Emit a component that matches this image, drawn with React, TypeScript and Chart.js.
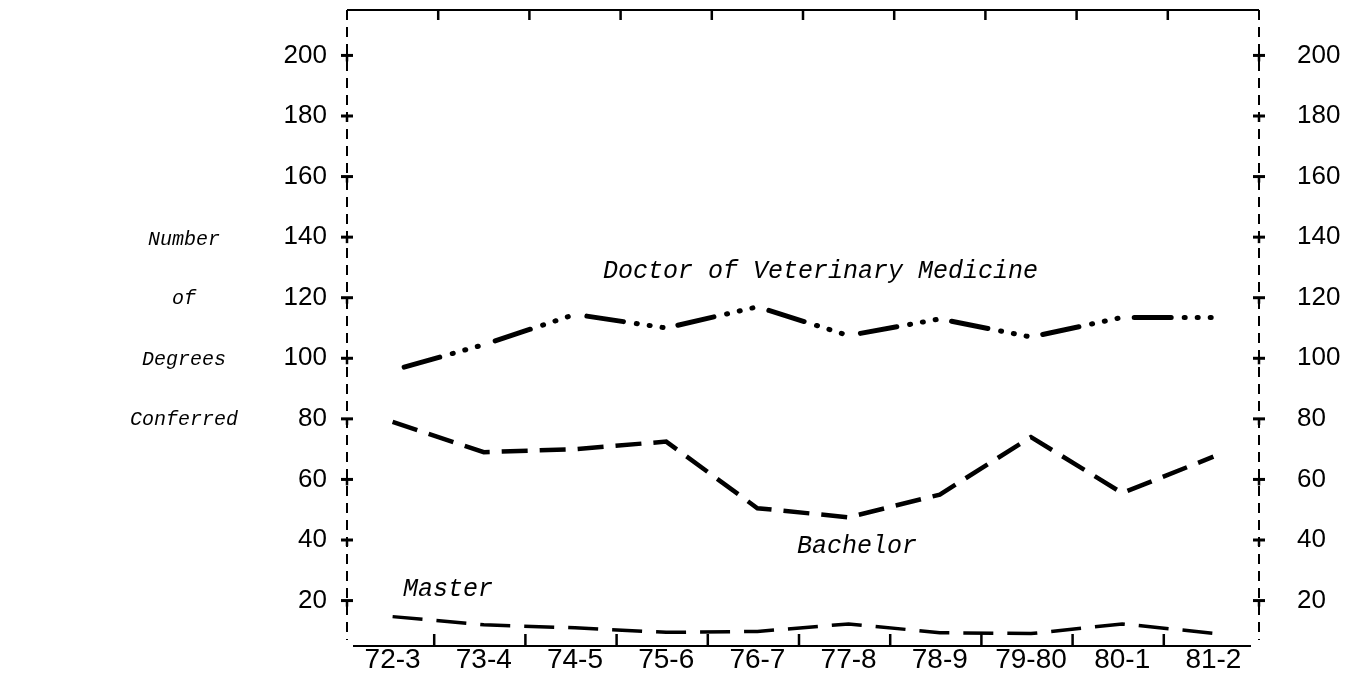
import React, { useEffect, useRef } from "react";
import { Chart, registerables } from "chart.js";

Chart.register(...registerables);

// ---- data ----
const categories = ["72-3", "73-4", "74-5", "75-6", "76-7", "77-8", "78-9", "79-80", "80-1", "81-2"];
const dvmValues = [96, 104.5, 114.5, 110, 117, 107.5, 113, 107, 113.5, 113.5];
const bachelorValues = [79, 69, 70, 72.5, 50.5, 47.5, 55, 74, 55.5, 67.5];
const masterValues = [14.7, 12, 11, 9.5, 9.8, 12.3, 9.4, 9.1, 12.3, 9.2];
const yTickValues = [20, 40, 60, 80, 100, 120, 140, 160, 180, 200];
const yAxisTitleLines = ["Number", "of", "Degrees", "Conferred"];
const seriesLabels = ["Doctor of Veterinary Medicine", "Bachelor", "Master"];

const TICK_FONT = "'Liberation Sans', Arial, sans-serif";
const TYPE_FONT = "'Liberation Mono', 'Courier New', monospace";

const framePlugin = {
  id: "typedFrame",
  afterDraw(chart: any) {
    const { ctx, chartArea, scales } = chart;
    const { left, right, top, bottom } = chartArea;
    const x = scales.x;
    const y = scales.y;
    ctx.save();
    ctx.strokeStyle = "#000";
    ctx.fillStyle = "#000";

    // top border (solid)
    ctx.lineWidth = 2;
    ctx.beginPath();
    ctx.moveTo(left, top);
    ctx.lineTo(right, top);
    ctx.stroke();
    // bottom axis (solid)
    ctx.beginPath();
    ctx.moveTo(left + 6, bottom);
    ctx.lineTo(right - 8, bottom);
    ctx.stroke();

    // dashed side axes
    ctx.setLineDash([10, 7]);
    ctx.beginPath();
    ctx.moveTo(left, top);
    ctx.lineTo(left, bottom - 6);
    ctx.moveTo(right, top);
    ctx.lineTo(right, bottom - 6);
    ctx.stroke();
    ctx.setLineDash([]);

    // category boundary ticks (top pointing down, bottom pointing up)
    ctx.lineWidth = 2.5;
    for (let i = 0; i < categories.length - 1; i++) {
      const bx = (x.getPixelForValue(i) + x.getPixelForValue(i + 1)) / 2;
      ctx.beginPath();
      ctx.moveTo(bx, top);
      ctx.lineTo(bx, top + 10);
      ctx.moveTo(bx - 4, bottom);
      ctx.lineTo(bx - 4, bottom - 12);
      ctx.stroke();
    }

    // T-shaped value ticks on both side axes
    for (const v of yTickValues) {
      const py = y.getPixelForValue(v);
      for (const ax of [left, right]) {
        ctx.lineWidth = 3;
        ctx.beginPath();
        ctx.moveTo(ax - 6, py);
        ctx.lineTo(ax + 6, py);
        ctx.stroke();
        ctx.lineWidth = 2.5;
        ctx.beginPath();
        ctx.moveTo(ax, py);
        ctx.lineTo(ax, py + 6);
        ctx.stroke();
      }
    }

    // axis title (horizontal, stacked)
    ctx.font = `italic 20px ${TYPE_FONT}`;
    ctx.textAlign = "center";
    ctx.textBaseline = "middle";
    const titleY = [240, 299, 360, 420];
    yAxisTitleLines.forEach((t, i) => ctx.fillText(t, 184, titleY[i]));

    // series annotations
    ctx.font = `italic 25px ${TYPE_FONT}`;
    ctx.textAlign = "left";
    ctx.textBaseline = "alphabetic";
    ctx.fillText(seriesLabels[0], 603, 278);
    ctx.fillText(seriesLabels[1], 797, 553);
    ctx.fillText(seriesLabels[2], 403, 596);

    ctx.restore();
  },
};

function fixYTicks(scale: any) {
  scale.ticks = yTickValues.map((v) => ({ value: v }));
}

export default function App() {
  const ref = useRef<HTMLCanvasElement>(null);

  useEffect(() => {
    const canvas = ref.current;
    if (!canvas) return;
    const chart = new Chart(canvas, {
      type: "line",
      data: {
        labels: categories,
        datasets: [
          {
            label: seriesLabels[0],
            data: dvmValues,
            borderColor: "#000",
            borderWidth: 5,
            borderCapStyle: "round",
            borderJoinStyle: "round",
            borderDash: [37, 13, 1, 12, 1, 12, 1, 14],
            pointRadius: 0,
            fill: false,
            tension: 0,
            segment: {
              borderDashOffset: (c: any) => 79 + (c.p0DataIndex % 2) * 0.001,
            },
          },
          {
            label: seriesLabels[1],
            data: bachelorValues,
            borderColor: "#000",
            borderWidth: 4.5,
            borderCapStyle: "butt",
            borderDash: [26, 12],
            pointRadius: 0,
            fill: false,
            tension: 0,
          },
          {
            label: seriesLabels[2],
            data: masterValues,
            borderColor: "#000",
            borderWidth: 3.5,
            borderCapStyle: "butt",
            borderDash: [30, 14],
            pointRadius: 0,
            fill: false,
            tension: 0,
          },
        ],
      },
      options: {
        responsive: false,
        animation: false,
        devicePixelRatio: 1,
        layout: { padding: { top: 10, left: 0, right: 0, bottom: 0 } },
        plugins: { legend: { display: false }, tooltip: { enabled: false } },
        scales: {
          x: {
            type: "category",
            offset: true,
            grid: { display: false, drawTicks: false, offset: true },
            border: { display: false },
            ticks: {
              color: "#000",
              padding: 0,
              autoSkip: false,
              maxRotation: 0,
              font: { family: TICK_FONT, size: 28, lineHeight: 1 },
            },
            afterFit: (s: any) => {
              s.height = 28;
              s.paddingLeft = 0;
              s.paddingRight = 0;
            },
          },
          y: {
            type: "linear",
            position: "left",
            min: 5,
            max: 215,
            grid: { display: false, drawTicks: false },
            border: { display: false },
            afterBuildTicks: fixYTicks,
            ticks: {
              color: "#000",
              padding: 20,
              autoSkip: false,
              font: { family: TICK_FONT, size: 26, lineHeight: 1 },
            },
            afterFit: (s: any) => {
              s.width = 347;
              s.paddingTop = 0;
              s.paddingBottom = 0;
            },
          },
          y2: {
            type: "linear",
            position: "right",
            min: 5,
            max: 215,
            grid: { display: false, drawTicks: false },
            border: { display: false },
            afterBuildTicks: fixYTicks,
            ticks: {
              color: "#000",
              padding: 38,
              autoSkip: false,
              font: { family: TICK_FONT, size: 26, lineHeight: 1 },
            },
            afterFit: (s: any) => {
              s.width = 91;
              s.paddingTop = 0;
              s.paddingBottom = 0;
            },
          },
        },
      },
      plugins: [framePlugin],
    } as any);
    return () => chart.destroy();
  }, []);

  return (
    <div style={{ position: "absolute", left: 0, top: 0, width: 1350, height: 674, background: "#fff" }}>
      <canvas ref={ref} width={1350} height={674} style={{ display: "block", width: 1350, height: 674 }} />
    </div>
  );
}
